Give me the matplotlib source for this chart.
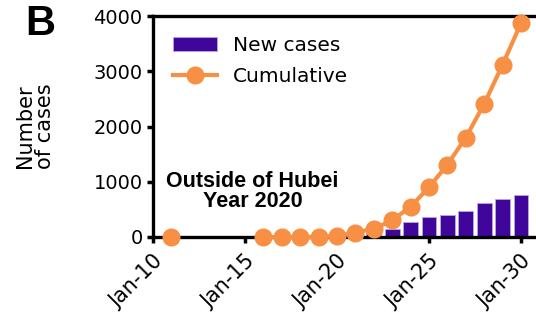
import matplotlib
matplotlib.use("Agg")
import matplotlib.pyplot as plt
from matplotlib.lines import Line2D
from matplotlib.patches import Patch

nan = float("nan")

# Data (day of January 2020); no reports for Jan 12-15
cum_days = [11, 12, 13, 14, 15, 16, 17, 18, 19, 20, 21, 22, 23, 24, 25, 26, 27, 28, 29, 30]
cum_values = [0, nan, nan, nan, nan, 0, 0, 0, 0, 20, 80, 150, 300, 550, 900, 1310, 1800, 2410, 3120, 3870]
new_days = [22, 23, 24, 25, 26, 27, 28, 29, 30]
new_values = [70, 145, 270, 360, 400, 477, 612, 695, 757]
xtick_days = [10, 15, 20, 25, 30]
xtick_labels = ["Jan-10", "Jan-15", "Jan-20", "Jan-25", "Jan-30"]
yticks = [0, 1000, 2000, 3000, 4000]

purple = "#40069c"
orange = "#f79044"

fig = plt.figure(figsize=(5.36, 3.14), dpi=100)
ax = fig.add_axes([153/536, 1 - 237/314, 1 - 153/536, (237 - 16)/314])

ax.bar(new_days, new_values, width=0.8, color=purple, edgecolor="#b9a5e6",
       linewidth=0.6, zorder=2)
ax.plot(cum_days, cum_values, color=orange, lw=3, marker="o", markersize=12,
        zorder=4, clip_on=False)

ax.set_xlim(10, 10 + (536 - 153) / 18.4)
ax.set_ylim(0, 4000)
ax.set_xticks(xtick_days)
ax.set_xticklabels(xtick_labels, rotation=45, ha="right", rotation_mode="anchor",
                   fontsize=15)
ax.set_yticks(yticks)
ax.tick_params(axis="y", labelsize=14)
ax.tick_params(axis="x", pad=6)
ax.tick_params(width=2.5, length=4, direction="out")

for s in ["left", "bottom", "top"]:
    ax.spines[s].set_linewidth(2.4)
ax.spines["right"].set_visible(False)

ax.set_ylabel("Number\nof cases", fontsize=15, labelpad=28, linespacing=0.95)

handles = [Patch(facecolor=purple, edgecolor="#b9a5e6", linewidth=0.6),
           Line2D([], [], color=orange, lw=3, marker="o", markersize=12)]
ax.legend(handles, ["New cases", "Cumulative"], loc="upper left", frameon=False,
          fontsize=14.5, handlelength=2.2, borderaxespad=0.0, labelspacing=0.6,
          bbox_to_anchor=(0.03, 0.945))

ax.text(0.26, 0.205, "Outside of Hubei\nYear 2020", transform=ax.transAxes,
        ha="center", va="center", fontsize=15.5, fontweight="bold",
        family="Liberation Sans", linespacing=0.95)

fig.text(25/536, 1 - 24/314, "B", fontsize=30, fontweight="bold",
         family="Liberation Sans", ha="left", va="center")

fig.savefig("out.png", dpi=100)
